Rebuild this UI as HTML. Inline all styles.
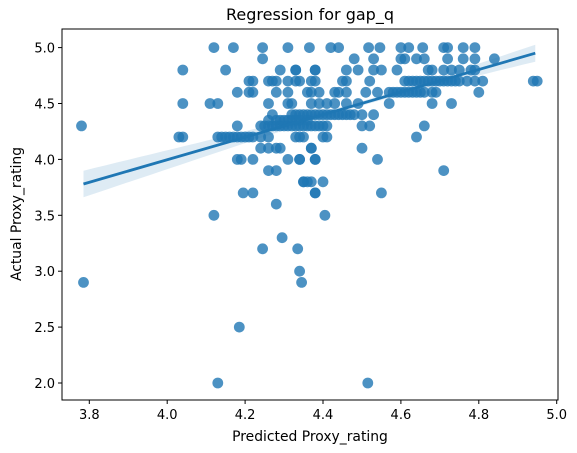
<!DOCTYPE html>
<html><head><meta charset="utf-8"><style>
body{margin:0;background:#fff}
svg{display:block;font-family:"DejaVu Sans","Liberation Sans",sans-serif}
</style></head><body>
<svg id="chart" width="577" height="453">
<rect x="0" y="0" width="577" height="453" fill="#fff"/>
<text x="310" y="20" text-anchor="middle" font-size="16">Regression for gap_q</text>
<g id="band"></g>
<g id="pts"></g>
<g id="reg"></g>
<g id="axes"></g>
<text x="310" y="441" text-anchor="middle" font-size="13.9">Predicted Proxy_rating</text>
<text x="21" y="214" text-anchor="middle" font-size="13.9" transform="rotate(-90 21 214)">Actual Proxy_rating</text>
</svg>
<script>
const xTicks=[3.8,4.0,4.2,4.4,4.6,4.8,5.0];
const yTicks=[2.0,2.5,3.0,3.5,4.0,4.5,5.0];
const predicted=[
4.12,4.17,4.245,4.31,4.365,4.42,4.44,4.517,4.546,4.60,4.62,4.656,4.71,4.72,4.76,4.79,
4.245,4.48,4.53,4.60,4.61,4.64,4.66,4.72,4.76,4.79,4.84,
4.04,4.15,4.29,4.33,4.38,4.33,4.38,4.46,4.49,4.53,4.55,4.59,4.67,4.68,4.71,4.73,4.75,4.78,4.79,
4.21,4.22,4.26,4.27,4.28,4.31,4.33,4.34,4.37,4.38,4.45,4.46,4.52,4.61,4.62,4.63,4.64,4.65,4.66,4.67,4.68,4.69,4.70,4.71,4.72,4.73,4.74,4.75,4.77,4.79,4.81,4.94,4.95,
4.18,4.21,4.22,4.28,4.31,4.36,4.37,4.39,4.43,4.44,4.46,4.51,4.54,4.57,4.58,4.59,4.60,4.61,4.62,4.63,4.64,4.65,4.66,4.68,4.69,4.80,
4.04,4.11,4.13,4.26,4.31,4.32,4.37,4.39,4.41,4.43,4.46,4.49,4.57,4.68,4.73,
4.27,4.32,4.33,4.34,4.35,4.36,4.37,4.38,4.39,4.40,4.41,4.42,4.43,4.44,4.45,4.46,4.47,4.48,4.50,4.53,
4.26,4.28,4.29,4.30,4.31,4.32,4.33,4.34,4.36,
3.78,4.18,4.24,4.25,4.26,4.27,4.28,4.29,4.30,4.31,4.32,4.33,4.34,4.35,4.36,4.37,4.38,4.39,4.40,4.41,4.50,4.52,4.66,
4.03,4.04,4.13,4.14,4.15,4.16,4.17,4.18,4.19,4.20,4.21,4.22,4.24,4.26,4.33,4.35,4.34,4.40,4.41,4.64,
4.24,4.26,4.28,4.29,4.37,4.37,4.50,
4.18,4.19,4.22,4.31,4.34,4.38,4.34,4.38,4.54,
4.26,4.28,4.71,
4.35,4.36,4.35,4.37,4.40,
4.195,4.22,4.38,4.38,4.55,
4.28,4.12,4.405,
4.245,4.295,4.335,4.34,4.345,3.785,4.185,4.13,4.515];
const actual=[
5,5,5,5,5,5,5,5,5,5,5,5,5,5,5,5,
4.9,4.9,4.9,4.9,4.9,4.9,4.9,4.9,4.9,4.9,4.9,
4.8,4.8,4.8,4.8,4.8,4.8,4.8,4.8,4.8,4.8,4.8,4.8,4.8,4.8,4.8,4.8,4.8,4.8,4.8,
4.7,4.7,4.7,4.7,4.7,4.7,4.7,4.7,4.7,4.7,4.7,4.7,4.7,4.7,4.7,4.7,4.7,4.7,4.7,4.7,4.7,4.7,4.7,4.7,4.7,4.7,4.7,4.7,4.7,4.7,4.7,4.7,4.7,
4.6,4.6,4.6,4.6,4.6,4.6,4.6,4.6,4.6,4.6,4.6,4.6,4.6,4.6,4.6,4.6,4.6,4.6,4.6,4.6,4.6,4.6,4.6,4.6,4.6,4.6,
4.5,4.5,4.5,4.5,4.5,4.5,4.5,4.5,4.5,4.5,4.5,4.5,4.5,4.5,4.5,
4.4,4.4,4.4,4.4,4.4,4.4,4.4,4.4,4.4,4.4,4.4,4.4,4.4,4.4,4.4,4.4,4.4,4.4,4.4,4.4,
4.35,4.35,4.35,4.35,4.35,4.35,4.35,4.35,4.35,
4.3,4.3,4.3,4.3,4.3,4.3,4.3,4.3,4.3,4.3,4.3,4.3,4.3,4.3,4.3,4.3,4.3,4.3,4.3,4.3,4.3,4.3,4.3,
4.2,4.2,4.2,4.2,4.2,4.2,4.2,4.2,4.2,4.2,4.2,4.2,4.2,4.2,4.2,4.2,4.2,4.2,4.2,4.2,
4.1,4.1,4.1,4.1,4.1,4.1,4.1,
4,4,4,4,4,4,4,4,4,
3.9,3.9,3.9,
3.8,3.8,3.8,3.8,3.8,
3.7,3.7,3.7,3.7,3.7,
3.6,3.5,3.5,
3.2,3.3,3.2,3.0,2.9,2.9,2.5,2.0,2.0];
const regStart=[3.785,3.78];
const regEnd=[4.945,4.95];

const NS="http://www.w3.org/2000/svg";
const L=62,R=558,T=29,B=400;
function sx(v){return 89.3+(v-3.8)*389.5;}
function sy(v){return 383-(v-2)*111.8;}
function mk(tag,attrs,parent){const e=document.createElementNS(NS,tag);for(const k in attrs)e.setAttribute(k,attrs[k]);parent.appendChild(e);return e;}

const band=document.getElementById('band');
const slope=(regEnd[1]-regStart[1])/(regEnd[0]-regStart[0]);
const up=[],dn=[];
for(let i=0;i<=40;i++){
 const x=regStart[0]+(regEnd[0]-regStart[0])*i/40;
 const y=regStart[1]+slope*(x-regStart[0]);
 const h=Math.sqrt(0.0004+0.027*(x-4.5)*(x-4.5));
 up.push(sx(x).toFixed(1)+','+sy(y+h).toFixed(1));
 dn.unshift(sx(x).toFixed(1)+','+sy(y-h).toFixed(1));
}
const poly=mk('polygon',{points:up.concat(dn).join(' '),fill:'#1f77b4','fill-opacity':'0.15'},band);



const pts=document.getElementById('pts');
for(let i=0;i<predicted.length;i++){
 const c=mk('circle',{cx:sx(predicted[i]).toFixed(1),cy:sy(actual[i]).toFixed(1),r:5.4,fill:'#1f77b4','fill-opacity':'0.8'},pts);
 
 
}

const reg=document.getElementById('reg');
const ln=mk('line',{x1:sx(regStart[0]),y1:sy(regStart[1]),x2:sx(regEnd[0]),y2:sy(regEnd[1]),stroke:'#1f77b4','stroke-width':2.8},reg);



const ax=document.getElementById('axes');
const fr=mk('rect',{x:L,y:T,width:R-L,height:B-T,fill:'none',stroke:'#000','stroke-width':1},ax);


xTicks.forEach(v=>{
 const x=sx(v);
 mk('line',{x1:x,y1:B,x2:x,y2:B+4,stroke:'#000'},ax);
 const t=mk('text',{x:x,y:B+19,'text-anchor':'middle','font-size':'13'},ax);
 t.textContent=v.toFixed(1);
 
 
});
yTicks.forEach(v=>{
 const y=sy(v);
 mk('line',{x1:L-4,y1:y,x2:L,y2:y,stroke:'#000'},ax);
 const t=mk('text',{x:L-7,y:y+5,'text-anchor':'end','font-size':'13'},ax);
 t.textContent=v.toFixed(1);
 
 
});
</script>
</body></html>
